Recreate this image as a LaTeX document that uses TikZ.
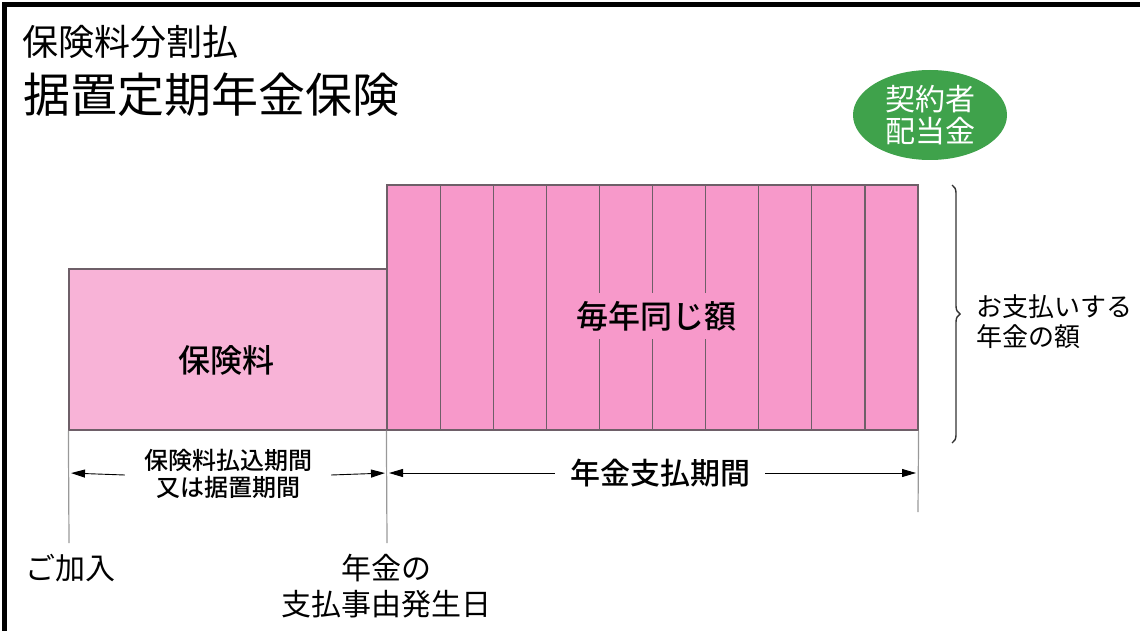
\documentclass[tikz,border=0pt]{standalone}
\usepackage{fontspec}
\setmainfont{Noto Sans CJK JP}[BoldFont={Noto Sans CJK JP Medium}]
\usepackage{tikz}
\usetikzlibrary{shapes.geometric}
\usetikzlibrary{arrows.meta}
\usetikzlibrary{decorations.pathreplacing}
\newcommand{\sz}[2]{\fontsize{#1}{#2}\selectfont}
\definecolor{nenkin}{HTML}{F799CA}
\definecolor{hoken}{HTML}{F8B3D7}
\definecolor{haitou}{HTML}{3FA24B}
\definecolor{waku}{HTML}{6E5F68}
\tikzset{
	col/.style={draw=waku, fill=nenkin, line width=1.2pt, rectangle, inner sep=0pt,
		minimum width=53.1pt, minimum height=245pt},
	guide/.style={draw=black!40, line width=1.2pt},
	span/.style={-{Triangle[length=14pt,width=8pt]}, line width=0.9pt, shorten >=2pt},
}

\begin{document}
\begin{tikzpicture}[x=1pt, y=-1pt]
	\useasboundingbox (0,0) rectangle (1140,631);
	\draw[line width=5pt] (4.5,631) -- (4.5,4.5) -- (1140,4.5);

	\node[anchor=west, inner sep=0pt, font=\sz{36}{36}] (title) at (22,42) {保険料分割払};
	\node[anchor=west, inner sep=0pt, font=\sz{47}{47}] (name) at (23,95) {据置定期年金保険};
	\node[ellipse, fill=haitou, text=white, minimum width=154pt, minimum height=90pt,
		inner sep=0pt, align=center, font=\sz{30}{32}] (div) at (930,115) {契約者\\配当金};

	\node[draw=waku, fill=hoken, line width=1.2pt, rectangle, inner sep=0pt,
		minimum width=318pt, minimum height=161pt] (prem) at (228,349.5) {};
	\node[col] (p_0) at (413.55,307.5) {};
	\node[col] (p_1) at (466.65,307.5) {};
	\node[col] (p_2) at (519.75,307.5) {};
	\node[col] (p_3) at (572.85,307.5) {};
	\node[col] (p_4) at (625.95,307.5) {};
	\node[col] (p_5) at (679.05,307.5) {};
	\node[col] (p_6) at (732.15,307.5) {};
	\node[col] (p_7) at (785.25,307.5) {};
	\node[col] (p_8) at (838.35,307.5) {};
	\node[col] (p_9) at (891.45,307.5) {};

	\node[font=\sz{32}{32}\bfseries] (hokenryo) at (226,360) {保険料};
	\node[fill=nenkin, inner xsep=2pt, inner ysep=8pt, font=\sz{32}{32}\bfseries] (same) at (656,316) {毎年同じ額};

	% brace for the amount
	\coordinate (bt) at (952,185);
	\coordinate (bb) at (952,443);
	\draw[decorate, decoration={brace, amplitude=8pt, aspect=0.5}, line width=1.4pt, draw=black!80] (bt) -- (bb);
	\node[anchor=west, align=left, font=\sz{26}{30}] (amt) at (973,322) {お支払いする\\年金の額};

	\coordinate (join) at (69,543);
	\coordinate (start) at (387,543);
	\coordinate (end) at (918,512);
	\draw[guide] (prem.south west) -- (join);
	\draw[guide] (p_0.south west) -- (start);
	\draw[guide] (p_9.south east) -- (end);

	\node[align=center, inner xsep=19pt, font=\sz{24}{27}\bfseries] (pay) at (228,474) {保険料払込期間\\又は据置期間};
	\node[inner xsep=15pt, font=\sz{30}{30}\bfseries] (nk) at (660,473) {年金支払期間};

	\draw[span] ([yshift=-1pt]pay.west) -- (join |- 0,473);
	\draw[span] ([yshift=-1pt]pay.east) -- (start |- 0,473);
	\draw[span] (nk.west) -- (start |- nk.west);
	\draw[span] (nk.east) -- (end |- nk.east);

	\node[anchor=west, inner sep=0pt, font=\sz{30}{30}] (kanyu) at (25,568) {ご加入};
	\node[align=center, inner sep=0pt, font=\sz{30}{36}] (hassei) at (386,586) {年金の\\支払事由発生日};
\end{tikzpicture}
\end{document}
